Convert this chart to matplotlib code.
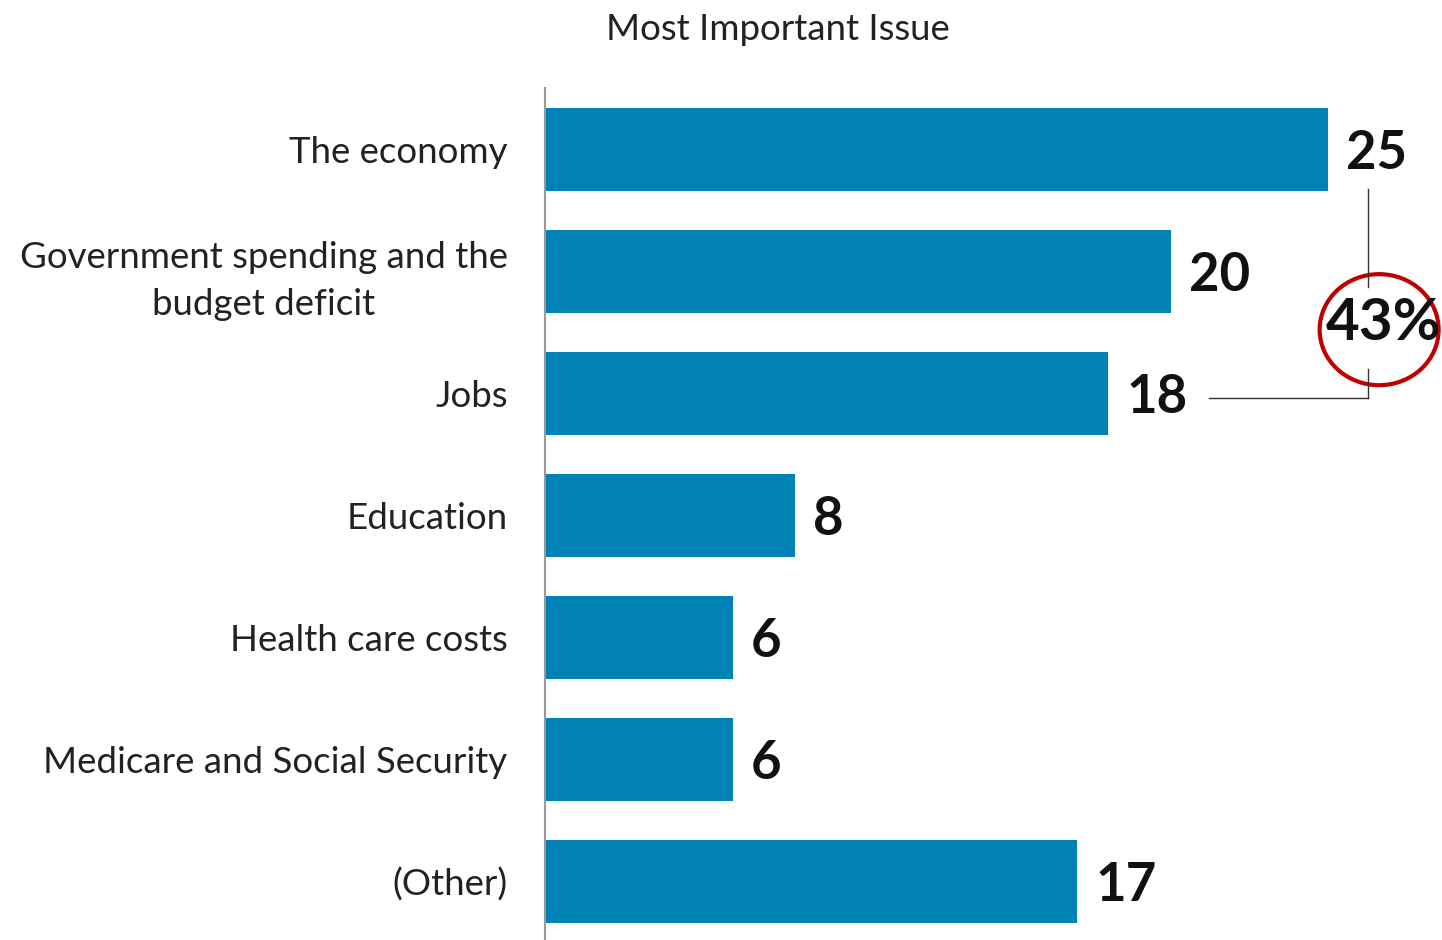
import matplotlib
matplotlib.use("Agg")
import matplotlib.pyplot as plt
from matplotlib.patches import Ellipse

categories = ["The economy", "Government spending and the\nbudget deficit", "Jobs",
              "Education", "Health care costs", "Medicare and Social Security", "(Other)"]
values = [25, 20, 18, 8, 6, 6, 17]
title = "Most Important Issue"
combined_label = "43%"

plt.rcParams['font.family'] = ['Lato', 'DejaVu Sans']
W, H = 1442, 940
fig = plt.figure(figsize=(W/100, H/100), dpi=100)
ax = fig.add_axes([545/W, 0, 1 - 545/W, 1 - 88/H])

ypos = list(range(len(categories)))
ax.barh(ypos, values, height=0.68, color='#0083B4')
ax.set_xlim(0, (W - 545) / 31.3)
ax.set_ylim(6.48, -0.5)
ax.set_yticks(ypos)
ax.set_yticklabels(categories, fontsize=26.4, color='#222222', ha='right',
                   multialignment='center', linespacing=1.5)
ax.tick_params(axis='y', length=0, pad=27)
ax.set_xticks([])
for s in ['top', 'right', 'bottom']:
    ax.spines[s].set_visible(False)
ax.spines['left'].set_color('#999999')
ax.spines['left'].set_linewidth(1.5)

for y, v in zip(ypos, values):
    ax.annotate(str(v), (v, y), xytext=(13, -3), textcoords='offset points',
                ha='left', va='center', fontsize=38, fontweight='bold', color='#111111')

fig.text(778/W, 1 - 29/H, title, ha='center', va='center', fontsize=26.4, color='#222222')

# bracket connecting 25 and 18 with the 43% circle
x_b = values[0] + 1.3
ax.plot([x_b, x_b], [0.33, 1.13], color='#333333', lw=1, clip_on=False)
ax.plot([x_b, x_b], [1.8, 2.04], color='#333333', lw=1, clip_on=False)
ax.plot([values[2] + 3.2, x_b], [2.04, 2.04], color='#333333', lw=1, clip_on=False)
circ = Ellipse((x_b + 0.35, 1.48), width=119/31.3, height=111/122, fill=False,
               edgecolor='#C00000', lw=3, clip_on=False)
ax.add_patch(circ)
ax.text(x_b + 0.5, 1.43, combined_label, ha='center', va='center', fontsize=42,
        fontweight='bold', color='#111111', clip_on=False)

fig.savefig('out.png', dpi=100)
